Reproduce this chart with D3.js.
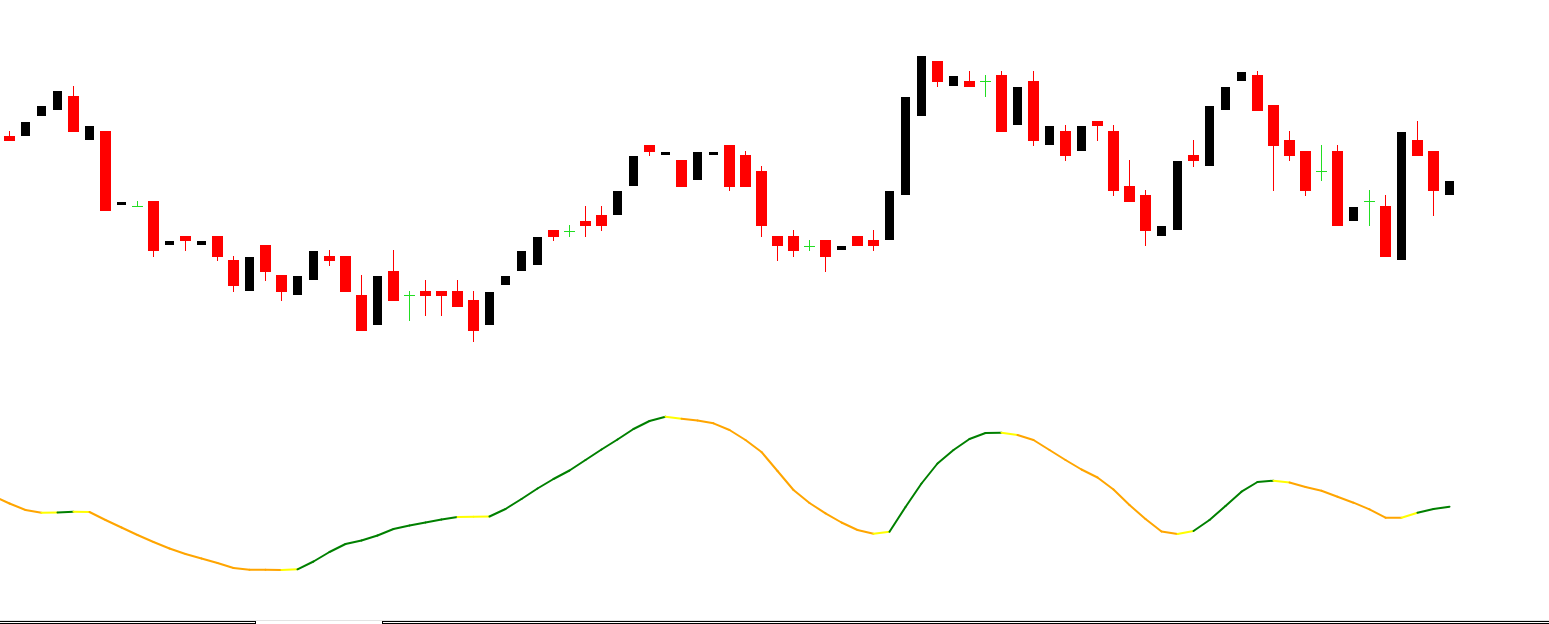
<!DOCTYPE html>
<html>
<head>
<meta charset="utf-8">
<script src="https://cdn.jsdelivr.net/npm/d3@7"></script>
<style>
html,body{margin:0;padding:0;background:#fff;overflow:hidden;}
svg{display:block;}
</style>
</head>
<body>
<script>
// ---- price data (one bar per candle, 91 bars) ----
const opens = [
1.1264,1.1264,1.1284,1.1290,1.1304,1.1260,1.1269,1.1195,1.1194,1.1199,
1.1155,1.1164,1.1155,1.1164,1.1140,1.1109,1.1155,1.1125,1.1105,1.1120,
1.1144,1.1144,1.1105,1.1075,1.1129,1.1105,1.1109,1.1109,1.1109,1.1100,
1.1075,1.1115,1.1129,1.1135,1.1170,1.1169,1.1179,1.1185,1.1185,1.1214,
1.1255,1.1245,1.1240,1.1220,1.1245,1.1255,1.1245,1.1229,1.1164,1.1164,
1.1154,1.1160,1.1150,1.1164,1.1160,1.1160,1.1205,1.1284,1.1339,1.1314,
1.1319,1.1319,1.1325,1.1275,1.1319,1.1255,1.1269,1.1249,1.1279,1.1269,
1.1214,1.1205,1.1164,1.1170,1.1245,1.1234,1.1290,1.1319,1.1325,1.1295,
1.1260,1.1249,1.1229,1.1249,1.1179,1.1199,1.1194,1.1140,1.1260,1.1249,
1.1205];
const highs = [
1.1269,1.1278,1.1294,1.1309,1.1314,1.1274,1.1269,1.1198,1.1199,1.1199,
1.1159,1.1164,1.1159,1.1164,1.1144,1.1143,1.1155,1.1125,1.1124,1.1149,
1.1150,1.1144,1.1125,1.1124,1.1150,1.1109,1.1120,1.1109,1.1120,1.1109,
1.1108,1.1124,1.1149,1.1163,1.1170,1.1175,1.1194,1.1194,1.1209,1.1244,
1.1255,1.1248,1.1240,1.1248,1.1248,1.1255,1.1249,1.1234,1.1164,1.1170,
1.1160,1.1160,1.1154,1.1164,1.1170,1.1209,1.1303,1.1344,1.1339,1.1324,
1.1329,1.1325,1.1329,1.1313,1.1329,1.1274,1.1275,1.1274,1.1279,1.1275,
1.1240,1.1210,1.1174,1.1239,1.1260,1.1294,1.1313,1.1328,1.1329,1.1295,
1.1269,1.1249,1.1255,1.1255,1.1193,1.1210,1.1205,1.1268,1.1279,1.1249,
1.1219];
const lows = [
1.1259,1.1264,1.1284,1.1290,1.1268,1.1260,1.1189,1.1195,1.1194,1.1143,
1.1155,1.1149,1.1155,1.1139,1.1108,1.1109,1.1119,1.1099,1.1105,1.1120,
1.1134,1.1108,1.1069,1.1075,1.1099,1.1079,1.1084,1.1084,1.1093,1.1058,
1.1075,1.1115,1.1129,1.1135,1.1159,1.1163,1.1163,1.1169,1.1185,1.1214,
1.1244,1.1245,1.1213,1.1220,1.1245,1.1209,1.1213,1.1163,1.1139,1.1143,
1.1149,1.1128,1.1150,1.1154,1.1149,1.1160,1.1205,1.1284,1.1313,1.1314,
1.1313,1.1303,1.1268,1.1275,1.1254,1.1255,1.1239,1.1249,1.1259,1.1204,
1.1198,1.1154,1.1164,1.1170,1.1233,1.1234,1.1290,1.1319,1.1289,1.1209,
1.1239,1.1204,1.1219,1.1174,1.1179,1.1174,1.1143,1.1140,1.1244,1.1184,
1.1205];
const closes = [
1.1259,1.1278,1.1294,1.1309,1.1268,1.1274,1.1189,1.1198,1.1194,1.1149,
1.1159,1.1159,1.1159,1.1143,1.1114,1.1143,1.1128,1.1108,1.1124,1.1149,
1.1139,1.1108,1.1069,1.1124,1.1099,1.1105,1.1104,1.1104,1.1093,1.1069,
1.1108,1.1124,1.1149,1.1163,1.1163,1.1169,1.1174,1.1174,1.1209,1.1244,
1.1248,1.1248,1.1213,1.1248,1.1248,1.1213,1.1213,1.1174,1.1154,1.1149,
1.1154,1.1143,1.1154,1.1154,1.1154,1.1209,1.1303,1.1344,1.1318,1.1324,
1.1313,1.1319,1.1268,1.1313,1.1259,1.1274,1.1244,1.1274,1.1274,1.1209,
1.1198,1.1169,1.1174,1.1239,1.1239,1.1294,1.1313,1.1328,1.1289,1.1254,
1.1244,1.1209,1.1229,1.1174,1.1193,1.1199,1.1143,1.1268,1.1244,1.1209,
1.1219];

// ---- oscillator (bars -1 .. 90) ----
const oscStart = -1;
const oscValues = [
74,
66.5,60,57.3,57.5,58.3,58,50,42.5,35,28,
21.5,16,11.5,7,2,0.3,0.2,0.1,0.7,8.5,
18,26,29.5,34.5,41,44.5,47.5,50.5,53,53.3,
53.5,61,71,81.5,91,99.5,110,120.5,130.5,141,
149,153.3,151.3,149.5,146.7,140,130,118,99,80,
67,56.7,47.5,40,36.3,38.3,63,86.5,106.5,120,
131,137,137.3,135,130,120,110,100.5,92.5,80.5,
65,51,38.5,36,39,50,64,78.3,88,89.3,
87.5,83,79.3,73.3,67.3,60.7,52.3,52.2,57.3,61,
63.3];
// state of the segment ending at bar i (0..90): d = falling, u = rising, n = neutral
const oscStates = [
"d","d","d","n","u","n","d","d","d","d",
"d","d","d","d","d","d","d","d","n","u",
"u","u","u","u","u","u","u","u","u","n",
"n","u","u","u","u","u","u","u","u","u",
"u","u","n","d","d","d","d","d","d","d",
"d","d","d","d","d","n","u","u","u","u",
"u","u","u","n","d","d","d","d","d","d",
"d","d","d","d","n","u","u","u","u","u",
"n","d","d","d","d","d","d","d","n","u",
"u"];

const W = 1549, H = 624;
const svg = d3.select("body").append("svg").attr("width", W).attr("height", H);
svg.append("rect").attr("width", W).attr("height", H).attr("fill", "#fff");

const x = d3.scaleLinear().domain([0, 90]).range([9.5, 1449.5]);
const y = d3.scaleLinear().domain([1.1000, 1.1400]).range([400, 0]);
const yo = d3.scaleLinear().domain([0, 150]).range([570, 420]);

const bars = d3.range(opens.length).map(i => ({
  i, o: opens[i], h: highs[i], l: lows[i], c: closes[i]
}));
const colorOf = d => d.c > d.o ? "#000000" : (d.c < d.o ? "#ff0000" : "#22dd22");
const R = v => Math.round(y(v));

const g = svg.append("g").attr("shape-rendering", "crispEdges");
// wicks
g.selectAll("rect.wick").data(bars).join("rect")
  .attr("class", "wick")
  .attr("x", d => x(d.i) - 0.5)
  .attr("width", 1)
  .attr("y", d => R(d.h))
  .attr("height", d => Math.max(0, R(d.l) - R(d.h)))
  .attr("fill", colorOf);
// bodies
g.selectAll("rect.body").data(bars).join("rect")
  .attr("class", "body")
  .attr("x", d => x(d.i) - (d.c > d.o ? 4.5 : 5.5))
  .attr("width", d => d.c > d.o ? 9 : 11)
  .attr("y", d => Math.min(R(d.o), R(d.c)))
  .attr("height", d => Math.max(1, Math.abs(R(d.o) - R(d.c))))
  .attr("fill", colorOf);

// oscillator segments
const oscColor = {d: "#ffa500", u: "#008000", n: "#ffff00"};
const segs = oscStates.map((s, k) => ({
  x0: x(k - 1), y0: yo(oscValues[k - 1 - oscStart]),
  x1: x(k),     y1: yo(oscValues[k - oscStart]),
  s
}));
svg.append("g").selectAll("line").data(segs).join("line")
  .attr("x1", d => d.x0).attr("y1", d => d.y0)
  .attr("x2", d => d.x1).attr("y2", d => d.y1)
  .attr("stroke", d => oscColor[d.s])
  .attr("stroke-width", 2)
  .attr("stroke-linecap", "round");

// bottom tab bar
const tb = svg.append("g").attr("shape-rendering", "crispEdges");
tb.append("line").attr("x1", 0).attr("x2", W).attr("y1", 620.5).attr("y2", 620.5)
  .attr("stroke", "#e3e3e3").attr("stroke-width", 1);
[[0, 255.5], [382.5, W]].forEach(([a, b]) => {
  tb.append("line").attr("x1", a).attr("x2", b).attr("y1", 621.5).attr("y2", 621.5).attr("stroke", "#000");
  tb.append("line").attr("x1", a).attr("x2", b).attr("y1", 623.5).attr("y2", 623.5).attr("stroke", "#000");
});
tb.append("line").attr("x1", 255.5).attr("x2", 255.5).attr("y1", 621).attr("y2", 624).attr("stroke", "#000");
tb.append("line").attr("x1", 382.5).attr("x2", 382.5).attr("y1", 621).attr("y2", 624).attr("stroke", "#000");
</script>
</body>
</html>
